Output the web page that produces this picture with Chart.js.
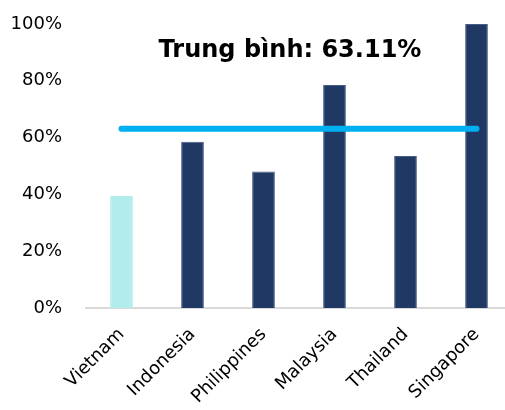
<!DOCTYPE html>
<html>
<head>
<meta charset="utf-8">
<script src="https://cdn.jsdelivr.net/npm/chart.js@4/dist/chart.umd.min.js"></script>
<style>
html,body{margin:0;padding:0;background:#fff;overflow:hidden;}
#wrap{position:relative;width:512px;height:410px;}
</style>
</head>
<body>
<div id="wrap"><canvas id="c"></canvas></div>
<script>
const categories = ["Vietnam", "Indonesia", "Philippines", "Malaysia", "Thailand", "Singapore"];
const values = [39.4, 58.5, 48.1, 78.5, 53.5, 100];
const average = 63.11;
const averageLabel = "Trung bình: 63.11%";
const yTicks = [0, 20, 40, 60, 80, 100];

const barColors = categories.map((c, i) => i === 0 ? "#B2ECEC" : "#203864");
const barBorders = categories.map((c, i) => i === 0 ? "#B2ECEC" : "#4a5b82");

const titlePlugin = {
  id: "avgTitle",
  afterDraw(chart) {
    const ctx = chart.ctx;
    const area = chart.chartArea;
    ctx.save();
    ctx.font = "bold 24px 'DejaVu Sans'";
    ctx.fillStyle = "#000";
    ctx.textAlign = "center";
    ctx.textBaseline = "alphabetic";
    ctx.fillText(averageLabel, area.left + 204, area.top + 33);
    ctx.restore();
  }
};

new Chart(document.getElementById("c"), {
  data: {
    labels: categories,
    datasets: [
      {
        type: "line",
        data: categories.map(() => average),
        borderColor: "#00B0F0",
        borderWidth: 6,
        borderCapStyle: "round",
        pointRadius: 0,
        order: 0
      },
      {
        type: "bar",
        data: values,
        backgroundColor: barColors,
        borderColor: barBorders,
        borderWidth: 1,
        barPercentage: 0.32,
        categoryPercentage: 1,
        order: 1
      }
    ]
  },
  options: {
    responsive: true,
    maintainAspectRatio: false,
    animation: false,
    layout: { padding: { top: 24, right: 0, left: 0, bottom: 0 } },
    plugins: { legend: { display: false }, tooltip: { enabled: false } },
    scales: {
      x: {
        offset: true,
        grid: { display: false, drawTicks: false },
        border: { display: true, color: "#D9D9D9", width: 2 },
        ticks: {
          color: "#000",
          font: { family: "'DejaVu Sans'", size: 18 },
          maxRotation: 45,
          minRotation: 45,
          padding: 16
        },
        afterFit(scale) { scale.height = 102; scale.paddingLeft = 0; scale.paddingRight = 0; }
      },
      y: {
        min: 0,
        max: 100,
        afterBuildTicks(scale) { scale.ticks = yTicks.map(v => ({ value: v })); },
        grid: { display: false, drawTicks: false },
        border: { display: false },
        ticks: {
          color: "#000",
          font: { family: "'DejaVu Sans'", size: 18 },
          padding: 24,
          callback: v => v + "%"
        },
        afterFit(scale) { scale.width = 86; scale.paddingTop = 0; scale.paddingBottom = 0; }
      }
    }
  },
  plugins: [titlePlugin]
});
</script>
</body>
</html>
